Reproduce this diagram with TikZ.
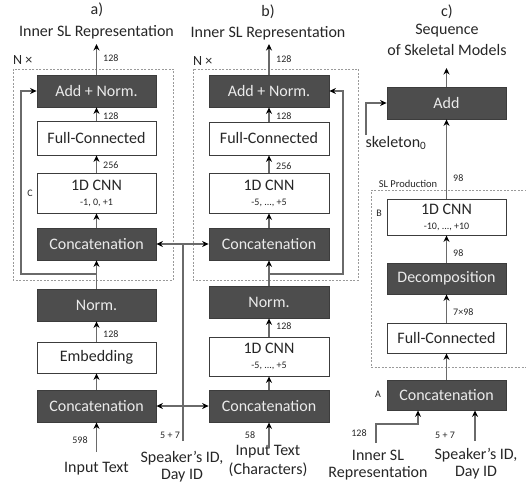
\documentclass[tikz,border=0pt]{standalone}
\usepackage{fontspec}
\setmainfont{Carlito}
\usetikzlibrary{arrows.meta}
\definecolor{darkbox}{HTML}{4D4D4D}
\definecolor{boxline}{HTML}{3C3C3C}
\definecolor{lin}{HTML}{6A6A6A}
\definecolor{txt}{HTML}{262626}
\definecolor{dashc}{HTML}{9A9A9A}
\newcommand\subtxt{\fontsize{10}{12}\selectfont}
\begin{document}
\begin{tikzpicture}[x=1pt,y=-1pt,
  dbox/.style={draw=boxline, fill=darkbox, text=white!92!black, minimum width=119pt, minimum height=32pt, inner sep=0pt, line width=0.8pt, font=\fontsize{16}{18}\selectfont},
  lbox/.style={draw=boxline, fill=white, text=txt, minimum width=119pt, minimum height=32pt, inner sep=0pt, line width=0.8pt, font=\fontsize{16}{18}\selectfont, align=center},
  conn/.style={draw=lin, line width=1.1pt, -{Stealth[length=6.5pt,width=6pt,color=black]}},
  plain/.style={draw=lin, line width=1.1pt},
  dashbox/.style={draw=dashc, line width=0.6pt, dash pattern=on 2pt off 1.5pt},
  lab/.style={font=\fontsize{10}{12}\selectfont, text=txt, inner sep=0pt},
  ttl/.style={font=\fontsize{16}{18}\selectfont, text=txt, inner sep=0pt, align=center}
]
\useasboundingbox (0,0) rectangle (526,484);

% dashed groups
\draw[dashbox] (13,69) rectangle (173,280);
\draw[dashbox] (193,69) rectangle (358,280);
\draw[dashbox] (530,190) -- (371,190) -- (371,367) -- (530,367);

% ---------- panel a ----------
\node[ttl] (ta) at (97,10) {a)};
\node[ttl] (ia) at (96.5,32) {Inner SL Representation};
\node[ttl, anchor=west, font=\fontsize{14}{16}\selectfont] (na) at (13,60) {N ×};
\node[dbox] (addA) at (96.5,91) {Add + Norm.};
\node[lbox, minimum height=34pt] (fcA) at (96.5,138) {Full-Connected};
\node[lbox, minimum height=40pt] (cnnA) at (96.5,193) {1D CNN\\[-3pt]{\subtxt -1, 0, +1}};
\node[dbox] (catA1) at (96.5,244) {Concatenation};
\node[dbox] (normA) at (96.5,305) {Norm.};
\node[lbox, minimum height=31pt] (embA) at (96.5,357.5) {Embedding};
\node[dbox] (catA0) at (96.5,406) {Concatenation};
\node[lab] (cA) at (30,193) {C};
\node[ttl] (itA) at (96.5,469) {Input Text};

\coordinate (outA) at (96.5,44);
\coordinate (inA) at (96.5,452);
\coordinate (ra1) at (96.5,274);
\coordinate (ra2) at (21,274);

\draw[conn] (addA.north) -- (outA);
\draw[conn] (fcA.north) -- (addA.south);
\draw[conn] (cnnA.north) -- (fcA.south);
\draw[conn] (catA1.north) -- (cnnA.south);
\draw[conn] (normA.north) -- (catA1.south);
\draw[conn] (embA.north) -- (normA.south);
\draw[conn] (catA0.north) -- (embA.south);
\draw[conn] (inA) -- (catA0.south);
\draw[conn] (ra1) -- (ra2) |- (addA.west);

\node[lab, anchor=west] (la1) at (103,58) {128};
\node[lab, anchor=west] (la2) at (103,116) {128};
\node[lab, anchor=west] (la3) at (103,165) {256};
\node[lab, anchor=west] (la4) at (103,334) {128};
\node[lab] (la5) at (80,440) {598};

% ---------- speaker / day shared ----------
\coordinate (spk) at (183,441);
\coordinate (spkT) at (183,244);
\coordinate (spkB) at (183,406);
\draw[plain] (spk) -- (spkT);
\draw[conn] (spkT) -- (catA1.east);
\draw[conn] (spkB) -- (catA0.east);
\node[lab] (l57a) at (170,435) {5 + 7};
\node[ttl] (spA) at (182,458) {Speaker’s ID,};
\node[ttl] (dyA) at (182,476) {Day ID};

% ---------- panel b ----------
\node[ttl] (tb) at (268,12) {b)};
\node[ttl] (ib) at (268,33) {Inner SL Representation};
\node[ttl, anchor=west, font=\fontsize{14}{16}\selectfont] (nb) at (193,61) {N ×};
\node[dbox, minimum width=120pt] (addB) at (269,91) {Add + Norm.};
\node[lbox, minimum width=120pt, minimum height=33pt] (fcB) at (269,138.5) {Full-Connected};
\node[lbox, minimum width=120pt, minimum height=40pt] (cnnB) at (269,193) {1D CNN\\[-3pt]{\subtxt -5, ..., +5}};
\node[dbox, minimum width=120pt] (catB1) at (269,244) {Concatenation};
\node[dbox, minimum width=120pt] (normB) at (269,302) {Norm.};
\node[lbox, minimum width=120pt, minimum height=39pt] (cnnB0) at (269,356.5) {1D CNN\\[-3pt]{\subtxt -5, ..., +5}};
\node[dbox, minimum width=120pt] (catB0) at (269,406) {Concatenation};
\node[ttl] (itB1) at (268,452) {Input Text};
\node[ttl] (itB2) at (268,470) {(Characters)};

\coordinate (outB) at (269,44);
\coordinate (inB) at (269,448);
\coordinate (rb1) at (269,274);
\coordinate (rb2) at (343,274);

\draw[conn] (addB.north) -- (outB);
\draw[conn] (fcB.north) -- (addB.south);
\draw[conn] (cnnB.north) -- (fcB.south);
\draw[conn] (catB1.north) -- (cnnB.south);
\draw[conn] (normB.north) -- (catB1.south);
\draw[conn] (cnnB0.north) -- (normB.south);
\draw[conn] (catB0.north) -- (cnnB0.south);
\draw[conn] (inB) -- (catB0.south);
\draw[conn] (rb1) -- (rb2) |- (addB.east);
\draw[conn] (spkT) -- (catB1.west);
\draw[conn] (spkB) -- (catB0.west);

\node[lab, anchor=west] (lb1) at (276,59) {128};
\node[lab, anchor=west] (lb2) at (276,116) {128};
\node[lab, anchor=west] (lb3) at (276,166) {256};
\node[lab, anchor=west] (lb4) at (276,326) {128};
\node[lab] (lb5) at (250,435) {58};

% ---------- panel c ----------
\node[ttl] (tc) at (447,12) {c)};
\node[ttl] (sq1) at (447,31) {Sequence};
\node[ttl] (sq2) at (447,50) {of Skeletal Models};
\node[dbox] (addC) at (446.5,103) {Add};
\node[lbox, minimum height=36pt] (cnnC) at (446.5,217) {1D CNN\\[-3pt]{\subtxt -10, ..., +10}};
\node[dbox, minimum height=31pt] (decC) at (446.5,278.5) {Decomposition};
\node[lbox, minimum height=30pt] (fcC) at (446.5,338) {Full-Connected};
\node[dbox, minimum height=30pt] (catC) at (446.5,395) {Concatenation};
\node[ttl] (skl) at (396,143) {skeleton\textsubscript{0}};
\node[lab, font=\fontsize{10.5}{12}\selectfont] (slp) at (408,184) {SL Production};
\node[lab] (lB) at (379,213) {B};
\node[lab] (lA) at (378,394) {A};
\node[ttl] (isl1) at (378,455) {Inner SL};
\node[ttl] (isl2) at (378,473) {Representation};
\node[ttl] (spC1) at (476,455) {Speaker’s ID,};
\node[ttl] (spC2) at (476,473) {Day ID};

\coordinate (outC) at (446.5,68);
\coordinate (sk) at (366,135);
\coordinate (inC) at (376,443);
\coordinate (inC3) at (418,424);
\coordinate (spC) at (475,441);

\draw[conn] (addC.north) -- (outC);
\draw[conn] (cnnC.north) -- (addC.south);
\draw[conn] (decC.north) -- (cnnC.south);
\draw[conn] (fcC.north) -- (decC.south);
\draw[conn] (catC.north) -- (fcC.south);
\draw[conn] (sk) |- (addC.west);
\draw[conn] (inC) |- (inC3) -- (inC3 |- catC.south);
\draw[conn] (spC) -- (spC |- catC.south);

\node[lab, anchor=west] (lc1) at (453,178) {98};
\node[lab, anchor=west] (lc2) at (453,253) {98};
\node[lab, anchor=west] (lc3) at (453,312) {7×98};
\node[lab] (lc4) at (359,433) {128};
\node[lab] (lc5) at (445,435) {5 + 7};
\end{tikzpicture}
\end{document}
